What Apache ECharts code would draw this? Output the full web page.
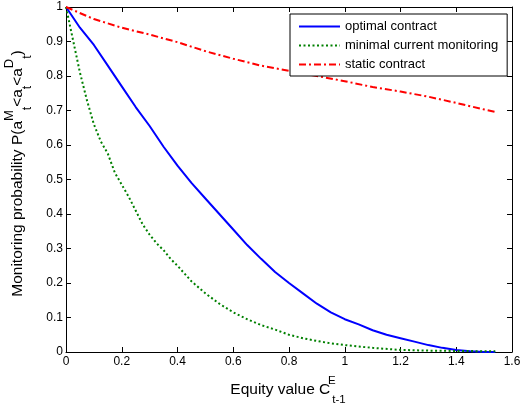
<!DOCTYPE html>
<html>
<head>
<meta charset="utf-8">
<script src="https://cdn.jsdelivr.net/npm/echarts@6/dist/echarts.min.js"></script>
<style>
html,body{margin:0;padding:0;background:#fff;}
#c{width:520px;height:404px;}
</style>
</head>
<body>
<div id="c"></div>
<script>
// Data
const optimalX = [0,0.05,0.1,0.15,0.2,0.25,0.3,0.35,0.4,0.45,0.5,0.55,0.6,0.65,0.7,0.75,0.8,0.85,0.9,0.95,1.0,1.05,1.1,1.15,1.2,1.25,1.3,1.35,1.4,1.45,1.5,1.54];
const optimalY = [1.0,0.94,0.89,0.83,0.77,0.71,0.655,0.595,0.54,0.49,0.445,0.40,0.355,0.31,0.27,0.232,0.20,0.17,0.14,0.115,0.095,0.08,0.063,0.05,0.04,0.03,0.02,0.012,0.006,0.002,0.0,0.0];

const minimalX = [0,0.025,0.05,0.075,0.1,0.125,0.15,0.175,0.2,0.225,0.25,0.275,0.3,0.325,0.35,0.375,0.4,0.45,0.5,0.55,0.6,0.65,0.7,0.75,0.8,0.85,0.9,0.95,1.0,1.1,1.2,1.3,1.4,1.54];
const minimalY = [1.0,0.905,0.81,0.73,0.66,0.61,0.575,0.52,0.485,0.45,0.41,0.37,0.34,0.315,0.295,0.27,0.25,0.205,0.17,0.14,0.115,0.095,0.078,0.065,0.05,0.04,0.032,0.025,0.02,0.012,0.006,0.004,0.003,0.002];

const staticX = [0,0.1,0.2,0.3,0.4,0.5,0.6,0.7,0.8,0.9,1.0,1.1,1.2,1.3,1.4,1.5,1.54];
const staticY = [1.0,0.965,0.94,0.92,0.898,0.872,0.85,0.83,0.815,0.80,0.785,0.768,0.755,0.74,0.722,0.703,0.696];

const seriesNames = ['optimal contract','minimal current monitoring','static contract'];
const xTicks = [0,0.2,0.4,0.6,0.8,1,1.2,1.4,1.6];
const yTicks = [0,0.1,0.2,0.3,0.4,0.5,0.6,0.7,0.8,0.9,1];

function zip(xs, ys){ return xs.map((x,i)=>[x, ys[i]]); }

const FONT = 'Liberation Sans, Arial, sans-serif';
const chart = echarts.init(document.getElementById('c'), null, {renderer:'canvas'});

const tickFmt = v => String(+(+v).toFixed(1));

const baseAxis = {
  axisLine:{show:true, onZero:false, lineStyle:{color:'#000', width:1}},
  axisTick:{show:true, inside:true, length:5, lineStyle:{color:'#000', width:1}},
  splitLine:{show:false}
};

const richX = {
  n:{fontSize:15.5, fontFamily:FONT, color:'#000', lineHeight:32, verticalAlign:'middle'},
  sup:{fontSize:11.5, fontFamily:FONT, color:'#000', verticalAlign:'top', width:1, lineHeight:32, padding:[1,0,0,1]},
  sub:{fontSize:11.5, fontFamily:FONT, color:'#000', verticalAlign:'bottom', lineHeight:32}
};
const richY = {
  n:{fontSize:15.5, fontFamily:FONT, color:'#000', lineHeight:32, verticalAlign:'middle'},
  sup:{fontSize:13, fontFamily:FONT, color:'#000', verticalAlign:'top', lineHeight:32, padding:[1,0,0,0]},
  sub:{fontSize:12, fontFamily:FONT, color:'#000', verticalAlign:'bottom', lineHeight:32}
};

chart.setOption({
  animation:false,
  backgroundColor:'#fff',
  textStyle:{fontFamily:FONT},
  grid:{left:66, right:8, top:7, bottom:52, containLabel:false, outerBoundsMode:'none'},
  xAxis:[
    Object.assign({}, baseAxis, {
      type:'value', min:xTicks[0], max:xTicks[xTicks.length-1], interval:0.2, position:'bottom',
      axisLabel:{color:'#000', fontSize:12, fontFamily:FONT, margin:4, formatter:tickFmt},
      name:'{n|Equity value C}{sup|E}{sub|t-1}',
      nameLocation:'middle', nameGap:22,
      nameTextStyle:{color:'#000', fontFamily:FONT, padding:[0,2,0,0], rich:richX}
    }),
    Object.assign({}, baseAxis, {
      type:'value', min:xTicks[0], max:xTicks[xTicks.length-1], interval:0.2, position:'top',
      axisLabel:{show:false}
    })
  ],
  yAxis:[
    Object.assign({}, baseAxis, {
      type:'value', min:yTicks[0], max:yTicks[yTicks.length-1], interval:0.1, position:'left',
      axisLabel:{color:'#000', fontSize:12, fontFamily:FONT, margin:3, formatter:tickFmt},
      name:'{n|Monitoring probability P(a}{sup|M}{sub|t}{n|<a}{sub|t}{n|<a}{sup|D}{sub|t}{n|)}',
      nameLocation:'middle', nameRotate:90, nameGap:32,
      nameTextStyle:{color:'#000', fontFamily:FONT, padding:[0,0,0,12], rich:richY}
    }),
    Object.assign({}, baseAxis, {
      type:'value', min:yTicks[0], max:yTicks[yTicks.length-1], interval:0.1, position:'right',
      axisLabel:{show:false}
    })
  ],
  legend:{
    show:true, orient:'vertical', left:290, top:14,
    data:seriesNames,
    itemWidth:41, itemHeight:14, itemGap:6,
    padding:[6,9,5,8],
    borderColor:'#000', borderWidth:1, backgroundColor:'#fff',
    itemStyle:{opacity:0},
    textStyle:{color:'#000', fontSize:13, fontFamily:FONT},
    selectedMode:false
  },
  series:[
    {name:seriesNames[0], type:'line', data:zip(optimalX, optimalY), symbol:'none', smooth:false,
     lineStyle:{color:'#0000ff', width:2, type:'solid'}, itemStyle:{color:'#0000ff'}},
    {name:seriesNames[1], type:'line', data:zip(minimalX, minimalY), symbol:'none', smooth:false,
     lineStyle:{color:'#008000', width:2, type:[2,2.5]}, itemStyle:{color:'#008000'}},
    {name:seriesNames[2], type:'line', data:zip(staticX, staticY), symbol:'none', smooth:false,
     lineStyle:{color:'#ff0000', width:2, type:[7,3,2,3]}, itemStyle:{color:'#ff0000'}}
  ]
});
</script>
</body>
</html>
